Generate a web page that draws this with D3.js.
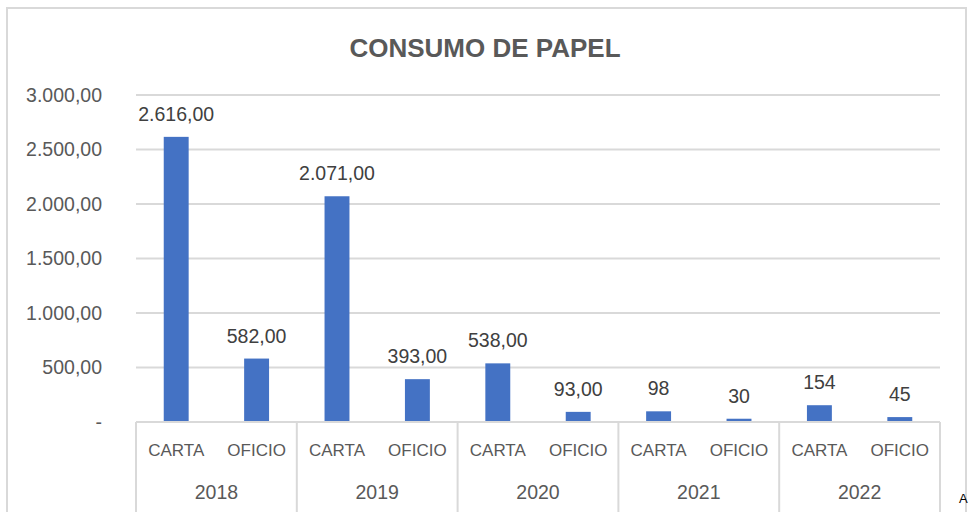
<!DOCTYPE html>
<html>
<head>
<meta charset="utf-8">
<script src="https://cdn.jsdelivr.net/npm/d3@7"></script>
<style>
  body { margin: 0; background: #fff; }
  text { font-family: "Liberation Sans", Arial, sans-serif; }
</style>
</head>
<body>
<script>
// data
var years = ["2018", "2019", "2020", "2021", "2022"];
var paperTypes = ["CARTA", "OFICIO"];
var values = [2616, 582, 2071, 393, 538, 93, 98, 30, 154, 45];
var valueLabels = ["2.616,00", "582,00", "2.071,00", "393,00", "538,00", "93,00", "98", "30", "154", "45"];
var yTicks = [0, 500, 1000, 1500, 2000, 2500, 3000];
var yTickLabels = ["-", "500,00", "1.000,00", "1.500,00", "2.000,00", "2.500,00", "3.000,00"];

var W = 970, H = 512;
var margin = {top: 95, right: 30, bottom: 90, left: 136},
    width = W - margin.left - margin.right,
    height = H - margin.top - margin.bottom;

var svg = d3.select("body").append("svg")
    .attr("width", W)
    .attr("height", H);

// outer chart frame
svg.append("rect")
    .attr("x", 7).attr("y", 8)
    .attr("width", 959).attr("height", 520)
    .attr("fill", "#fff")
    .attr("stroke", "#d9d9d9")
    .attr("stroke-width", 2);

svg.append("text")
    .attr("x", 485).attr("y", 57)
    .attr("text-anchor", "middle")
    .attr("font-size", "26px")
    .attr("font-weight", "bold")
    .attr("fill", "#595959")
    .text("CONSUMO DE PAPEL");

var g = svg.append("g")
    .attr("transform", "translate(" + margin.left + "," + margin.top + ")");

// flat list of bars
var rows = [];
years.forEach(function (yr, i) {
    paperTypes.forEach(function (t, j) {
        var k = i * paperTypes.length + j;
        rows.push({year: yr, type: t, key: yr + "-" + t, value: values[k], label: valueLabels[k]});
    });
});

var x = d3.scaleBand()
    .domain(rows.map(function (d) { return d.key; }))
    .range([0, width])
    .paddingInner(0.69)
    .paddingOuter(0.345);

var xYear = d3.scaleBand()
    .domain(years)
    .range([0, width]);

var y = d3.scaleLinear()
    .domain([0, 3000])
    .range([height, 0]);

// gridlines
g.selectAll(".grid")
    .data(yTicks.slice(1))
    .enter().append("line")
    .attr("x1", 0).attr("x2", width)
    .attr("y1", function (d) { return y(d); })
    .attr("y2", function (d) { return y(d); })
    .attr("stroke", "#d9d9d9")
    .attr("stroke-width", 2);

// y axis labels
var yAxis = g.append("g")
    .call(d3.axisLeft(y).tickValues(yTicks)
        .tickFormat(function (d, i) { return yTickLabels[i]; })
        .tickSize(0).tickPadding(34));
yAxis.select(".domain").remove();
yAxis.selectAll("text")
    .attr("font-family", "Liberation Sans, Arial, sans-serif")
    .attr("font-size", "19.5px")
    .attr("fill", "#595959");

// bars
g.selectAll(".bar")
    .data(rows)
    .enter().append("rect")
    .attr("x", function (d) { return x(d.key); })
    .attr("y", function (d) { return y(d.value); })
    .attr("width", x.bandwidth())
    .attr("height", function (d) { return height - y(d.value); })
    .attr("fill", "#4472c4");

// data labels
g.selectAll(".lbl")
    .data(rows)
    .enter().append("text")
    .attr("x", function (d) { return x(d.key) + x.bandwidth() / 2; })
    .attr("y", function (d) { return y(d.value) - 16; })
    .attr("text-anchor", "middle")
    .attr("font-size", "19.5px")
    .attr("fill", "#404040")
    .text(function (d) { return d.label; });

// category axis: baseline + group separators
g.append("line")
    .attr("x1", 0).attr("x2", width)
    .attr("y1", height).attr("y2", height)
    .attr("stroke", "#d9d9d9")
    .attr("stroke-width", 2);

var seps = years.map(function (yr) { return xYear(yr); }).concat([width]);
g.selectAll(".sep")
    .data(seps)
    .enter().append("line")
    .attr("x1", function (d) { return d; })
    .attr("x2", function (d) { return d; })
    .attr("y1", height)
    .attr("y2", H - margin.top)
    .attr("stroke", "#d9d9d9")
    .attr("stroke-width", 2);

g.selectAll(".cat")
    .data(rows)
    .enter().append("text")
    .attr("x", function (d) { return x(d.key) + x.bandwidth() / 2; })
    .attr("y", height + 34)
    .attr("text-anchor", "middle")
    .attr("font-size", "17px")
    .attr("fill", "#595959")
    .text(function (d) { return d.type; });

g.selectAll(".yr")
    .data(years)
    .enter().append("text")
    .attr("x", function (d) { return xYear(d) + xYear.bandwidth() / 2; })
    .attr("y", height + 77)
    .attr("text-anchor", "middle")
    .attr("font-size", "19.5px")
    .attr("fill", "#595959")
    .text(function (d) { return d; });

// stray glyph at the right edge of the screenshot
svg.append("text")
    .attr("x", 959).attr("y", 503)
    .attr("font-size", "13px")
    .attr("fill", "#000")
    .text("A");
</script>
</body>
</html>
